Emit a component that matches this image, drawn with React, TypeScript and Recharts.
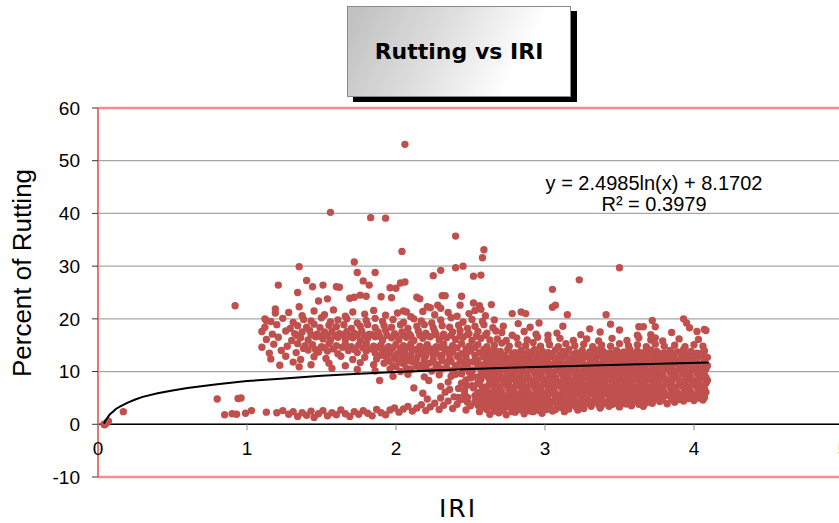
import React from 'react';
import {
  ComposedChart,
  Scatter,
  XAxis,
  YAxis,
  CartesianGrid,
  ReferenceLine,
} from 'recharts';

const nearOrigin = [0.04, 0.0, 0.045, -0.1, 0.06, 0.3, 0.07, 0.6, 0.17, 2.4];

const outliers = [
  2.06, 53.1, 1.56, 40.2, 1.83, 39.2, 1.93, 39.1, 2.4, 35.7, 2.04, 32.8, 2.59, 33.1, 2.58, 31.6,
  1.72, 30.8, 1.35, 29.9, 2.4, 29.7, 2.45, 30.0, 3.5, 29.7, 1.74, 28.8, 1.86, 28.8, 2.3, 29.2,
  2.25, 28.2, 2.52, 28.1, 2.57, 28.3, 3.23, 27.4, 1.21, 26.4, 1.4, 27.3, 1.44, 26.1, 1.51, 26.4,
  1.6, 26.1, 1.62, 26.0, 1.78, 27.2, 1.82, 26.4, 1.34, 25.0, 1.96, 25.9, 2.0, 25.8, 2.03, 26.8,
  2.06, 27.0, 3.05, 25.6, 3.05, 22.2, 3.07, 22.6, 3.15, 20.8, 3.41, 20.8, 3.44, 19.0, 3.72, 19.7,
  3.66, 18.5, 0.92, 22.5,
];

const upperFringe = [
  1.54, 23.8, 1.48, 23.4, 1.35, 22.3, 1.19, 21.9, 1.19, 21.1, 1.12, 20.0, 1.13, 19.7, 1.69, 23.9,
  1.72, 24.1, 1.76, 24.5, 1.8, 24.3, 1.9, 24.2, 1.97, 24.0, 2.14, 24.1, 2.16, 23.8, 2.31, 24.4,
  2.33, 24.4, 2.44, 24.3, 2.52, 23.0, 2.56, 22.5, 2.57, 21.8, 2.53, 21.6, 2.64, 22.7, 2.43, 22.6,
  2.28, 22.6, 2.3, 22.0, 2.21, 22.3, 2.23, 22.1, 2.05, 21.5, 2.07, 21.3, 2.78, 21.0, 2.84, 21.3,
  2.87, 21.0, 2.96, 19.2, 3.02, 16.9,
];

const upperCluster = [
  1.28, 21.2, 1.37, 20.6, 1.45, 21.5, 1.52, 20.8, 1.58, 21.7, 1.66, 20.5, 1.71, 21.3, 1.79, 20.9,
  1.85, 21.6, 1.93, 20.7, 2.01, 21.1, 2.1, 20.4, 2.18, 21.4, 2.26, 20.8, 2.35, 21.2, 2.41, 20.5,
  2.49, 21.0, 2.6, 20.6,
  1.16, 19.5, 1.24, 20.1, 1.31, 19.3, 1.38, 19.9, 1.43, 19.6, 1.5, 20.2, 1.56, 19.4, 1.61, 19.8,
  1.67, 20.0, 1.74, 19.2, 1.8, 19.7, 1.86, 20.1, 1.91, 19.5, 1.98, 19.9, 2.05, 19.3, 2.12, 20.0,
  2.17, 19.6, 2.24, 19.2, 2.3, 19.8, 2.37, 20.2, 2.45, 19.4, 2.51, 19.9, 2.58, 19.5, 2.66, 19.8,
  1.12, 18.4, 1.2, 18.9, 1.29, 18.2, 1.34, 18.7, 1.4, 18.4, 1.45, 19.0, 1.49, 18.3, 1.55, 18.8,
  1.6, 18.5, 1.65, 18.9, 1.7, 18.2, 1.76, 18.6, 1.81, 18.9, 1.86, 18.3, 1.92, 18.7, 1.97, 18.4,
  2.03, 18.9, 2.08, 18.2, 2.14, 18.6, 2.19, 18.9, 2.25, 18.3, 2.31, 18.7, 2.36, 18.4, 2.42, 18.8,
  2.48, 18.2, 2.53, 18.6, 2.59, 18.9, 2.65, 18.3, 2.72, 18.6,
  1.1, 17.6, 1.17, 17.1, 1.26, 17.7, 1.32, 17.2, 1.37, 17.5, 1.42, 17.8, 1.47, 17.1, 1.52, 17.5,
  1.57, 17.7, 1.62, 17.2, 1.67, 17.6, 1.72, 17.3, 1.77, 17.7, 1.82, 17.1, 1.88, 17.5, 1.93, 17.8,
  1.99, 17.2, 2.04, 17.5, 2.09, 17.1, 2.15, 17.7, 2.2, 17.3, 2.26, 17.6, 2.32, 17.1, 2.38, 17.5,
  2.43, 17.8, 2.49, 17.2, 2.55, 17.6, 2.61, 17.3, 2.67, 17.7,
  1.13, 16.1, 1.21, 16.5, 1.3, 15.9, 1.36, 16.4, 1.41, 16.0, 1.46, 16.6, 1.51, 16.2, 1.56, 15.9,
  1.61, 16.5, 1.66, 16.1, 1.71, 16.4, 1.76, 15.9, 1.81, 16.3, 1.86, 16.6, 1.91, 16.0, 1.97, 16.4,
  2.02, 16.1, 2.07, 16.5, 2.12, 15.9, 2.18, 16.3, 2.23, 16.6, 2.29, 16.0, 2.34, 16.4, 2.4, 16.1,
  2.45, 16.5, 2.51, 15.9, 2.57, 16.3, 2.63, 16.0,
  1.1, 14.6, 1.18, 15.2, 1.27, 14.8, 1.34, 15.3, 1.39, 14.9, 1.44, 15.1, 1.5, 14.7, 1.55, 15.3,
  1.6, 14.9, 1.66, 15.2, 1.7, 14.7, 1.75, 15.0, 1.8, 15.3, 1.85, 14.8, 1.9, 15.1, 1.95, 14.7,
  2.0, 15.2, 2.05, 14.9, 2.1, 15.3, 2.16, 14.8, 2.21, 15.1, 2.27, 14.7, 2.32, 15.2, 2.38, 14.9,
  2.44, 15.3, 2.49, 14.8, 2.55, 15.1, 2.61, 14.7,
  1.15, 13.5, 1.23, 14.0, 1.33, 13.6, 1.41, 14.1, 1.48, 13.7, 1.54, 13.9, 1.61, 13.4, 1.68, 14.0,
  1.74, 13.6, 1.8, 13.9, 1.86, 13.5, 1.91, 14.1, 1.96, 13.7, 2.01, 13.4, 2.06, 13.9, 2.11, 14.1,
  2.17, 13.6, 2.22, 13.9, 2.27, 13.5, 2.33, 14.0, 2.38, 13.7, 2.44, 13.4, 2.5, 13.9, 2.56, 13.6,
  2.62, 14.0,
  1.16, 12.4, 1.26, 12.9, 1.36, 12.3, 1.45, 12.8, 1.53, 12.5, 1.63, 12.9, 1.71, 12.3, 1.79, 12.7,
  1.87, 12.4, 1.93, 12.9, 1.99, 12.5, 2.04, 12.2, 2.09, 12.8, 2.14, 12.5, 2.19, 12.9, 2.25, 12.3,
  2.3, 12.7, 2.36, 12.4, 2.41, 12.9, 2.47, 12.5, 2.53, 12.2, 2.59, 12.8,
  1.22, 11.2, 1.31, 11.8, 1.43, 11.3, 1.55, 11.6, 1.66, 11.1, 1.76, 11.7, 1.85, 11.3, 1.92, 11.6,
  1.98, 11.1, 2.05, 11.5, 2.11, 11.8, 2.16, 11.2, 2.22, 11.6, 2.28, 11.3, 2.34, 11.7, 2.4, 11.1,
  2.46, 11.5, 2.52, 11.8, 2.58, 11.2,
  1.35, 10.9, 1.57, 10.6, 1.74, 10.4, 1.86, 10.1, 1.96, 10.5, 2.03, 10.0, 2.1, 10.4, 2.17, 10.7,
  2.24, 10.1, 2.31, 10.5, 2.38, 10.2, 2.45, 10.6, 2.51, 10.0, 2.57, 10.4,
  1.98, 9.1, 2.08, 9.5, 2.19, 9.0, 2.29, 9.4, 2.37, 9.1, 2.44, 9.6, 2.52, 9.0, 2.58, 9.3,
  1.89, 8.3, 2.22, 8.3, 2.35, 8.0, 2.47, 8.4, 2.55, 7.9, 2.12, 6.9, 2.3, 7.2, 2.42, 6.8,
  2.51, 7.3, 2.58, 6.6, 2.18, 5.9, 2.33, 6.1, 2.46, 5.7, 2.55, 6.0,
];

// extra points between the rows above, where the upper cloud is densest
const upperFill = [
  1.38, 14.4, 1.46, 14.2, 1.52, 14.5, 1.58, 14.3, 1.64, 14.6, 1.72, 14.2, 1.78, 14.5, 1.83, 14.3,
  1.88, 14.6, 1.93, 14.2, 1.98, 14.5, 2.03, 14.3, 2.08, 14.6, 2.13, 14.2, 2.19, 14.5, 2.24, 14.3,
  2.3, 14.6, 2.35, 14.2, 2.41, 14.5, 2.47, 14.3, 2.53, 14.6, 2.59, 14.2,
  1.34, 16.8, 1.43, 17.0, 1.49, 16.7, 1.54, 16.9, 1.59, 16.8, 1.64, 17.0, 1.69, 16.7, 1.74, 16.9,
  1.79, 16.8, 1.84, 17.0, 1.89, 16.7, 1.94, 16.9, 2.0, 16.8, 2.05, 17.0, 2.1, 16.7, 2.16, 16.9,
  2.21, 16.8, 2.27, 17.0, 2.32, 16.7, 2.37, 16.9, 2.43, 16.8, 2.48, 17.0, 2.54, 16.7, 2.6, 16.9,
  1.9, 13.1, 1.95, 13.3, 2.0, 13.0, 2.05, 13.2, 2.1, 13.1, 2.15, 13.3, 2.2, 13.0, 2.25, 13.2,
  2.31, 13.1, 2.36, 13.3, 2.42, 13.0, 2.47, 13.2, 2.53, 13.1, 2.58, 13.3,
  1.95, 12.0, 2.02, 11.8, 2.08, 12.1, 2.13, 11.9, 2.19, 12.0, 2.25, 11.8, 2.31, 12.1, 2.37, 11.9,
  2.43, 12.0, 2.49, 11.8, 2.55, 12.1,
  2.0, 10.9, 2.07, 10.7, 2.14, 11.0, 2.2, 10.8, 2.27, 10.9, 2.34, 10.7, 2.41, 11.0, 2.48, 10.8,
  2.55, 10.9,
];

// points where the two clouds meet, between the bands
const bridge = [
  2.46, 6.4, 2.5, 8.8, 2.53, 5.4, 2.56, 7.6, 2.59, 9.7, 2.49, 9.9, 2.54, 4.6, 2.58, 5.9,
  2.44, 7.8, 2.52, 6.9, 2.57, 8.5, 2.4, 9.5, 2.48, 4.2, 2.55, 3.6, 2.36, 6.6, 2.42, 5.1,
  2.51, 10.3, 2.56, 9.1, 2.47, 7.3, 2.58, 4.1,
];

const lowBand = [
  0.8, 4.8, 0.85, 1.8, 0.9, 2.0, 0.93, 1.9, 0.94, 4.9, 0.96, 5.0, 0.99, 2.1, 1.03, 2.6, 1.13, 2.3,
  1.2, 2.2, 1.24, 2.6, 1.28, 1.9, 1.31, 2.4, 1.34, 1.5, 1.37, 2.2, 1.4, 1.7, 1.43, 2.5, 1.45, 1.3,
  1.48, 2.0, 1.51, 2.6, 1.54, 1.6, 1.57, 2.2, 1.6, 1.8, 1.63, 2.7, 1.66, 2.0, 1.69, 1.5, 1.72, 2.4,
  1.75, 1.9, 1.78, 2.6, 1.81, 2.1, 1.84, 1.6, 1.87, 2.8, 1.9, 2.2, 1.93, 1.8, 1.96, 2.7, 1.99, 3.1,
  2.02, 2.3, 2.05, 2.9, 2.08, 3.4, 2.11, 2.5, 2.14, 3.1, 2.17, 3.7, 2.2, 2.6, 2.23, 3.3, 2.26, 4.0,
  2.29, 2.8, 2.32, 3.6, 2.35, 4.4, 2.38, 3.0, 2.41, 3.8, 2.44, 4.7, 2.47, 2.7, 2.5, 3.5, 2.53, 4.3,
  2.56, 2.4, 2.59, 3.2, 2.62, 4.6, 2.21, 4.8, 2.3, 5.0, 2.39, 5.2, 2.48, 5.1, 2.57, 5.3,
];

const mainMass = [
  2.71, 17.4, 2.78, 16.9, 2.86, 17.6, 2.94, 17.1, 3.08, 17.3, 3.24, 17.0, 3.37, 17.5, 3.62, 16.9,
  3.74, 16.4, 3.85, 17.4, 4.02, 17.6, 4.08, 17.8, 4.07, 18.0, 3.93, 20.0, 3.95, 19.2, 3.97, 18.3,
  3.71, 17.0, 3.63, 18.5, 3.74, 18.5, 2.9, 18.4, 2.82, 19.1, 3.12, 18.6, 3.3, 18.1, 3.5, 17.9,
  2.68, 16.2, 2.74, 15.9, 2.81, 16.4, 2.88, 16.0, 2.95, 16.5, 3.02, 16.0, 3.1, 16.3, 3.19, 15.9,
  3.28, 16.2, 3.36, 15.8, 3.45, 16.3, 3.55, 15.9, 3.63, 16.4, 3.71, 16.0, 3.79, 15.8, 3.9, 16.2,
  4.03, 16.1,
  2.66, 15.0, 2.71, 15.4, 2.76, 14.8, 2.82, 15.2, 2.87, 14.9, 2.92, 15.5, 2.97, 14.8, 3.03, 15.1,
  3.09, 14.7, 3.14, 15.3, 3.2, 14.9, 3.26, 15.2, 3.32, 14.7, 3.38, 15.0, 3.44, 14.8, 3.5, 15.3,
  3.56, 14.9, 3.62, 15.1, 3.68, 14.7, 3.74, 15.2, 3.8, 14.8, 3.87, 15.0, 3.94, 14.7, 4.0, 15.1,
  4.06, 14.8,
  2.61, 13.7, 2.66, 14.1, 2.7, 13.8, 2.75, 14.2, 2.8, 13.6, 2.84, 14.0, 2.89, 13.7, 2.93, 14.2,
  2.98, 13.9, 3.02, 13.6, 3.07, 14.1, 3.12, 13.8, 3.16, 14.2, 3.21, 13.6, 3.25, 14.0, 3.3, 13.7,
  3.35, 14.1, 3.39, 13.8, 3.44, 13.5, 3.48, 14.0, 3.53, 13.7, 3.57, 14.2, 3.62, 13.9, 3.66, 13.6,
  3.71, 14.1, 3.75, 13.8, 3.8, 13.5, 3.84, 14.0, 3.89, 13.7, 3.93, 14.2, 3.98, 13.8, 4.02, 13.5,
  4.07, 13.9,
  2.63, 12.6, 2.68, 13.0, 2.72, 12.7, 2.77, 12.5, 2.82, 12.9, 2.86, 12.6, 2.91, 13.0, 2.95, 12.8,
  3.0, 12.5, 3.04, 12.9, 3.09, 12.6, 3.13, 13.0, 3.18, 12.7, 3.23, 12.4, 3.27, 12.9, 3.32, 12.6,
  3.36, 13.0, 3.41, 12.7, 3.46, 12.5, 3.5, 12.9, 3.55, 12.6, 3.59, 13.1, 3.64, 12.8, 3.68, 12.5,
  3.73, 12.9, 3.77, 12.6, 3.82, 13.0, 3.86, 12.7, 3.91, 12.4, 3.95, 12.9, 4.0, 12.6, 4.05, 13.0,
  4.09, 12.7,
  2.6, 11.5, 2.65, 11.9, 2.7, 11.6, 2.74, 12.0, 2.79, 11.4, 2.83, 11.8, 2.88, 11.5, 2.92, 11.9,
  2.97, 11.6, 3.01, 12.0, 3.06, 11.4, 3.1, 11.8, 3.15, 11.5, 3.2, 11.9, 3.24, 11.6, 3.29, 11.3,
  3.33, 11.8, 3.38, 11.5, 3.42, 11.9, 3.47, 11.6, 3.51, 12.0, 3.56, 11.4, 3.61, 11.8, 3.65, 11.5,
  3.7, 11.9, 3.74, 11.6, 3.79, 11.3, 3.83, 11.8, 3.88, 11.5, 3.92, 11.9, 3.97, 11.6, 4.01, 12.0,
  4.06, 11.4,
  2.62, 10.4, 2.67, 10.8, 2.71, 10.5, 2.76, 10.9, 2.81, 10.3, 2.85, 10.7, 2.9, 10.4, 2.94, 10.8,
  2.99, 10.5, 3.03, 10.9, 3.08, 10.3, 3.12, 10.7, 3.17, 10.4, 3.21, 10.8, 3.26, 10.5, 3.31, 10.9,
  3.35, 10.3, 3.4, 10.7, 3.44, 10.4, 3.49, 10.8, 3.53, 10.5, 3.58, 10.9, 3.62, 10.3, 3.67, 10.7,
  3.72, 10.4, 3.76, 10.8, 3.81, 10.5, 3.85, 10.9, 3.9, 10.3, 3.94, 10.7, 3.99, 10.4, 4.03, 10.8,
  4.08, 10.5,
  2.61, 9.3, 2.65, 9.7, 2.7, 9.4, 2.75, 9.8, 2.79, 9.2, 2.84, 9.6, 2.88, 9.3, 2.93, 9.7,
  2.97, 9.4, 3.02, 9.8, 3.06, 9.2, 3.11, 9.6, 3.15, 9.3, 3.2, 9.7, 3.25, 9.4, 3.29, 9.8,
  3.34, 9.2, 3.38, 9.6, 3.43, 9.3, 3.47, 9.7, 3.52, 9.4, 3.56, 9.8, 3.61, 9.2, 3.65, 9.6,
  3.7, 9.3, 3.74, 9.7, 3.79, 9.4, 3.84, 9.8, 3.88, 9.2, 3.93, 9.6, 3.97, 9.3, 4.02, 9.7,
  4.07, 9.4,
  2.63, 8.2, 2.68, 8.6, 2.72, 8.3, 2.77, 8.7, 2.81, 8.1, 2.86, 8.5, 2.91, 8.2, 2.95, 8.6,
  3.0, 8.3, 3.04, 8.7, 3.09, 8.1, 3.13, 8.5, 3.18, 8.2, 3.22, 8.6, 3.27, 8.3, 3.32, 8.7,
  3.36, 8.1, 3.41, 8.5, 3.45, 8.2, 3.5, 8.6, 3.54, 8.3, 3.59, 8.7, 3.63, 8.1, 3.68, 8.5,
  3.72, 8.2, 3.77, 8.6, 3.82, 8.3, 3.86, 8.7, 3.91, 8.1, 3.95, 8.5, 4.0, 8.2, 4.04, 8.6,
  4.09, 8.3,
  2.6, 7.1, 2.65, 7.5, 2.69, 7.2, 2.74, 7.6, 2.78, 7.0, 2.83, 7.4, 2.87, 7.1, 2.92, 7.5,
  2.97, 7.2, 3.01, 7.6, 3.06, 7.0, 3.1, 7.4, 3.15, 7.1, 3.19, 7.5, 3.24, 7.2, 3.28, 7.6,
  3.33, 7.0, 3.37, 7.4, 3.42, 7.1, 3.47, 7.5, 3.51, 7.2, 3.56, 7.6, 3.6, 7.0, 3.65, 7.4,
  3.69, 7.1, 3.74, 7.5, 3.78, 7.2, 3.83, 7.6, 3.87, 7.0, 3.92, 7.4, 3.96, 7.1, 4.01, 7.5,
  4.06, 7.2,
  2.62, 6.0, 2.66, 6.4, 2.71, 6.1, 2.76, 6.5, 2.8, 5.9, 2.85, 6.3, 2.89, 6.0, 2.94, 6.4,
  2.98, 6.1, 3.03, 6.5, 3.07, 5.9, 3.12, 6.3, 3.16, 6.0, 3.21, 6.4, 3.26, 6.1, 3.3, 6.5,
  3.35, 5.9, 3.39, 6.3, 3.44, 6.0, 3.48, 6.4, 3.53, 6.1, 3.57, 6.5, 3.62, 5.9, 3.66, 6.3,
  3.71, 6.0, 3.75, 6.4, 3.8, 6.1, 3.85, 6.5, 3.89, 5.9, 3.94, 6.3, 3.98, 6.0, 4.03, 6.4,
  4.08, 6.1,
  2.61, 4.9, 2.66, 5.3, 2.7, 5.0, 2.75, 5.4, 2.79, 4.8, 2.84, 5.2, 2.88, 4.9, 2.93, 5.3,
  2.97, 5.0, 3.02, 5.4, 3.07, 4.8, 3.11, 5.2, 3.16, 4.9, 3.2, 5.3, 3.25, 5.0, 3.29, 5.4,
  3.34, 4.8, 3.38, 5.2, 3.43, 4.9, 3.48, 5.3, 3.52, 5.0, 3.57, 5.4, 3.61, 4.8, 3.66, 5.2,
  3.7, 4.9, 3.75, 5.3, 3.79, 5.0, 3.84, 5.4, 3.88, 4.9, 3.93, 5.2, 3.97, 5.0, 4.02, 5.3,
  4.07, 5.1,
  2.63, 3.8, 2.67, 4.2, 2.72, 3.9, 2.77, 4.3, 2.81, 3.7, 2.86, 4.1, 2.9, 3.8, 2.95, 4.2,
  2.99, 3.9, 3.04, 4.3, 3.08, 3.7, 3.13, 4.1, 3.17, 3.8, 3.22, 4.2, 3.27, 3.9, 3.31, 4.3,
  3.36, 3.7, 3.4, 4.1, 3.45, 3.8, 3.49, 4.2, 3.54, 3.9, 3.58, 4.3, 3.63, 3.8, 3.68, 4.1,
  3.72, 4.0, 3.77, 4.3, 3.82, 3.9, 3.87, 4.2, 3.93, 4.4, 4.0, 4.5, 4.06, 4.6,
  2.61, 2.8, 2.66, 3.2, 2.7, 2.9, 2.75, 3.3, 2.79, 2.7, 2.84, 3.1, 2.88, 2.8, 2.93, 3.2,
  2.97, 2.9, 3.02, 3.3, 3.07, 2.8, 3.11, 3.2, 3.16, 2.9, 3.21, 3.3, 3.26, 3.0, 3.31, 3.4,
  3.37, 3.1, 3.43, 3.4, 3.5, 3.3, 3.58, 3.5, 3.66, 3.4,
  2.63, 1.9, 2.69, 2.2, 2.74, 1.8, 2.8, 2.3, 2.86, 2.0, 2.92, 2.4, 2.98, 2.1, 3.05, 2.5,
  3.13, 2.4, 3.22, 2.7,
];

// extra points between the rows of the main cloud, which is nearly solid in the picture
const mainFill = [
  2.6, 4.5, 2.65, 4.7, 2.69, 4.4, 2.74, 4.6, 2.78, 4.3, 2.83, 4.7, 2.88, 4.5, 2.92, 4.4,
  2.96, 4.8, 3.01, 4.5, 3.05, 4.3, 3.1, 4.7, 3.14, 4.4, 3.19, 4.6, 3.24, 4.5, 3.28, 4.8,
  3.33, 4.4, 3.37, 4.6, 3.42, 4.3, 3.46, 4.7, 3.51, 4.5, 3.55, 4.8, 3.6, 4.4, 3.65, 4.6,
  3.69, 4.5, 3.74, 4.7, 3.79, 4.6, 3.85, 4.8, 3.9, 4.7, 3.96, 4.9, 4.03, 5.0,
  2.63, 5.6, 2.68, 5.9, 2.72, 5.5, 2.77, 5.8, 2.82, 5.6, 2.86, 5.9, 2.91, 5.5, 2.95, 5.8,
  3.0, 5.7, 3.05, 5.9, 3.09, 5.5, 3.14, 5.8, 3.18, 5.6, 3.23, 5.9, 3.27, 5.5, 3.32, 5.8,
  3.36, 5.7, 3.41, 5.9, 3.46, 5.5, 3.5, 5.8, 3.55, 5.6, 3.59, 5.9, 3.64, 5.5, 3.68, 5.8,
  3.73, 5.7, 3.77, 5.9, 3.82, 5.5, 3.87, 5.8, 3.91, 5.6, 3.96, 5.9, 4.0, 5.5, 4.05, 5.8,
  2.61, 6.7, 2.66, 6.9, 2.7, 6.6, 2.75, 7.0, 2.79, 6.7, 2.84, 6.9, 2.88, 6.6, 2.93, 7.0,
  2.97, 6.7, 3.02, 6.9, 3.06, 6.6, 3.11, 7.0, 3.16, 6.7, 3.2, 6.9, 3.25, 6.6, 3.29, 7.0,
  3.34, 6.7, 3.38, 6.9, 3.43, 6.6, 3.47, 7.0, 3.52, 6.7, 3.56, 6.9, 3.61, 6.6, 3.65, 7.0,
  3.7, 6.7, 3.74, 6.9, 3.79, 6.6, 3.84, 7.0, 3.88, 6.7, 3.93, 6.9, 3.97, 6.6, 4.02, 7.0,
  4.07, 6.7,
  2.63, 7.8, 2.67, 8.0, 2.72, 7.7, 2.76, 8.1, 2.81, 7.8, 2.85, 8.0, 2.9, 7.7, 2.94, 8.1,
  2.99, 7.8, 3.04, 8.0, 3.08, 7.7, 3.13, 8.1, 3.17, 7.8, 3.22, 8.0, 3.26, 7.7, 3.31, 8.1,
  3.35, 7.8, 3.4, 8.0, 3.45, 7.7, 3.49, 8.1, 3.54, 7.8, 3.58, 8.0, 3.63, 7.7, 3.67, 8.1,
  3.72, 7.8, 3.76, 8.0, 3.81, 7.7, 3.85, 8.1, 3.9, 7.8, 3.94, 8.0, 3.99, 7.7, 4.03, 8.1,
  4.08, 7.8,
  2.62, 8.9, 2.66, 9.1, 2.71, 8.8, 2.75, 9.2, 2.8, 8.9, 2.84, 9.1, 2.89, 8.8, 2.94, 9.2,
  2.98, 8.9, 3.03, 9.1, 3.07, 8.8, 3.12, 9.2, 3.16, 8.9, 3.21, 9.1, 3.25, 8.8, 3.3, 9.2,
  3.35, 8.9, 3.39, 9.1, 3.44, 8.8, 3.48, 9.2, 3.53, 8.9, 3.57, 9.1, 3.62, 8.8, 3.66, 9.2,
  3.71, 8.9, 3.75, 9.1, 3.8, 8.8, 3.85, 9.2, 3.89, 8.9, 3.94, 9.1, 3.98, 8.8, 4.03, 9.2,
  4.08, 8.9,
  2.6, 10.0, 2.65, 10.2, 2.69, 9.9, 2.74, 10.3, 2.78, 10.0, 2.83, 10.2, 2.87, 9.9, 2.92, 10.3,
  2.96, 10.0, 3.01, 10.2, 3.06, 9.9, 3.1, 10.3, 3.15, 10.0, 3.19, 10.2, 3.24, 9.9, 3.28, 10.3,
  3.33, 10.0, 3.37, 10.2, 3.42, 9.9, 3.47, 10.3, 3.51, 10.0, 3.56, 10.2, 3.6, 9.9, 3.65, 10.3,
  3.69, 10.0, 3.74, 10.2, 3.78, 9.9, 3.83, 10.3, 3.88, 10.0, 3.92, 10.2, 3.97, 9.9, 4.01, 10.3,
  4.06, 10.0,
  2.63, 11.1, 2.67, 11.3, 2.72, 11.0, 2.77, 11.4, 2.81, 11.1, 2.86, 11.3, 2.9, 11.0, 2.95, 11.4,
  2.99, 11.1, 3.04, 11.3, 3.08, 11.0, 3.13, 11.4, 3.18, 11.1, 3.22, 11.3, 3.27, 11.0, 3.31, 11.4,
  3.36, 11.1, 3.4, 11.3, 3.45, 11.0, 3.49, 11.4, 3.54, 11.1, 3.58, 11.3, 3.63, 11.0, 3.68, 11.4,
  3.72, 11.1, 3.77, 11.3, 3.81, 11.0, 3.86, 11.4, 3.9, 11.1, 3.95, 11.3, 3.99, 11.0, 4.04, 11.4,
  4.09, 11.1,
  2.61, 12.2, 2.66, 12.4, 2.7, 12.1, 2.75, 12.5, 2.79, 12.2, 2.84, 12.4, 2.89, 12.1, 2.93, 12.5,
  2.98, 12.2, 3.02, 12.4, 3.07, 12.1, 3.11, 12.5, 3.16, 12.2, 3.2, 12.4, 3.25, 12.1, 3.3, 12.5,
  3.34, 12.2, 3.39, 12.4, 3.43, 12.1, 3.48, 12.5, 3.52, 12.2, 3.57, 12.4, 3.61, 12.1, 3.66, 12.5,
  3.71, 12.2, 3.75, 12.4, 3.8, 12.1, 3.84, 12.5, 3.89, 12.2, 3.93, 12.4, 3.98, 12.1, 4.02, 12.5,
  4.07, 12.2,
  2.64, 13.2, 2.68, 13.4, 2.73, 13.1, 2.78, 13.5, 2.82, 13.2, 2.87, 13.4, 2.91, 13.1, 2.96, 13.5,
  3.0, 13.2, 3.05, 13.4, 3.1, 13.1, 3.14, 13.5, 3.19, 13.2, 3.23, 13.4, 3.28, 13.1, 3.32, 13.5,
  3.37, 13.2, 3.42, 13.4, 3.46, 13.1, 3.51, 13.5, 3.55, 13.2, 3.6, 13.4, 3.64, 13.1, 3.69, 13.5,
  3.73, 13.2, 3.78, 13.4, 3.83, 13.1, 3.87, 13.5, 3.92, 13.2, 3.96, 13.4, 4.01, 13.1, 4.05, 13.5,
  2.62, 3.4, 2.68, 3.6, 2.73, 3.3, 2.78, 3.7, 2.83, 3.4, 2.88, 3.6, 2.93, 3.5, 2.98, 3.7,
  3.03, 3.4, 3.09, 3.6, 3.14, 3.5, 3.19, 3.7, 3.25, 3.6, 3.31, 3.8, 3.38, 3.6, 3.46, 3.9,
  3.55, 3.9,
  2.66, 2.5, 2.72, 2.6, 2.78, 2.4, 2.84, 2.7, 2.9, 2.5, 2.96, 2.6, 3.01, 2.8,
];

// Logarithmic trendline, values
const trendX = [0.04, 0.05, 0.06, 0.07, 0.08, 0.1, 0.12, 0.15, 0.2, 0.25, 0.3, 0.4, 0.5, 0.6, 0.8, 1, 1.25, 1.5, 1.75, 2, 2.5, 3, 3.5, 4.1];
const trendY = [0.1, 0.7, 1.1, 1.5, 1.9, 2.4, 2.9, 3.4, 4.1, 4.7, 5.2, 5.9, 6.4, 6.9, 7.6, 8.2, 8.7, 9.2, 9.6, 9.9, 10.5, 10.9, 11.3, 11.7];

const xTicks = [0, 1, 2, 3, 4, 5];
const yTicks = [-10, 0, 10, 20, 30, 40, 50, 60];

function toPoints(flat: number[]) {
  const out: { x: number; y: number }[] = [];
  for (let i = 0; i < flat.length; i += 2) out.push({ x: flat[i], y: flat[i + 1] });
  return out;
}

const points = [
  ...toPoints(nearOrigin),
  ...toPoints(lowBand),
  ...toPoints(upperCluster),
  ...toPoints(upperFill),
  ...toPoints(upperFringe),
  ...toPoints(bridge),
  ...toPoints(mainMass),
  ...toPoints(mainFill),
  ...toPoints(outliers),
];
const trend = trendX.map((x, i) => ({ x, y: trendY[i] }));

const CHART_W = 860;
const CHART_H = 523;
const Y_AXIS_W = 60;
const X_AXIS_H = 30;
const MARGIN = { top: 108, right: 17, bottom: 16, left: 38 };
const Y_MIN = -10;
const Y_MAX = 60;
const PLOT_BOTTOM = CHART_H - MARGIN.bottom - X_AXIS_H;
const PLOT_H = PLOT_BOTTOM - MARGIN.top;
// x axis crosses at y = 0, not at the bottom of the plot
const ZERO_Y = PLOT_BOTTOM - (PLOT_H * (0 - Y_MIN)) / (Y_MAX - Y_MIN);

const FONT = '"Liberation Sans", Arial, sans-serif';
const VERDANA = '"DejaVu Sans", Verdana, sans-serif';
const DOT = '#C0504D';
const PINK = '#FF8A8A';

const XTick = (props: any) => {
  const { x, payload } = props;
  return (
    <g>
      <line x1={x} x2={x} y1={ZERO_Y} y2={ZERO_Y + 6} stroke="#8c8c8c" strokeWidth={1} />
      <text x={x} y={ZERO_Y + 31} textAnchor="middle" fontSize={19} fontFamily={FONT} fill="#000">
        {payload.value}
      </text>
    </g>
  );
};

const Dot = (props: any) => <circle cx={props.cx} cy={props.cy} r={3.7} fill={DOT} />;
const NoDot = () => null;

export default function App() {
  return (
    <div
      style={{
        position: 'absolute',
        left: 0,
        top: 0,
        width: 839,
        height: 523,
        overflow: 'hidden',
        background: '#fff',
      }}
    >
      <ComposedChart width={CHART_W} height={CHART_H} margin={MARGIN}>
        <CartesianGrid horizontal vertical={false} stroke="#a6a6a6" strokeWidth={1.2} />
        <XAxis
          type="number"
          dataKey="x"
          domain={[0, 5]}
          ticks={xTicks}
          height={X_AXIS_H}
          axisLine={false}
          tickLine={false}
          tick={<XTick />}
          allowDataOverflow
        />
        <YAxis
          type="number"
          dataKey="y"
          domain={[Y_MIN, Y_MAX]}
          ticks={yTicks}
          width={Y_AXIS_W}
          axisLine={{ stroke: '#e87878', strokeWidth: 2 }}
          tickLine={{ stroke: '#333', strokeWidth: 1 }}
          tickSize={6}
          tickMargin={12}
          tick={{ fill: '#000', fontSize: 19, fontFamily: FONT }}
          allowDataOverflow
        />
        <ReferenceLine y={60} stroke={PINK} strokeWidth={2.5} />
        <ReferenceLine y={-10} stroke={PINK} strokeWidth={2.5} />
        <ReferenceLine y={0} stroke="#000" strokeWidth={1.5} />
        <Scatter data={points} fill={DOT} shape={<Dot />} isAnimationActive={false} />
        <Scatter
          data={trend}
          shape={<NoDot />}
          line={{ stroke: '#000', strokeWidth: 2 }}
          lineType="joint"
          isAnimationActive={false}
        />
      </ComposedChart>

      {/* chart title box */}
      <div
        style={{
          position: 'absolute',
          left: 347,
          top: 6,
          width: 222,
          height: 89,
          border: '1px solid #8a8a8a',
          background: 'linear-gradient(120deg, #c2c2c2 5%, #dedede 40%, #ffffff 75%)',
          boxShadow: '6px 5px 0 #000',
          display: 'flex',
          alignItems: 'center',
          justifyContent: 'center',
          fontFamily: VERDANA,
          fontWeight: 'bold',
          fontSize: 22,
          color: '#000',
        }}
      >
        Rutting vs IRI
      </div>

      {/* trendline equation */}
      <div
        style={{
          position: 'absolute',
          left: 534,
          top: 173,
          width: 240,
          textAlign: 'center',
          fontFamily: FONT,
          fontSize: 20,
          lineHeight: '21px',
          color: '#000',
        }}
      >
        <div style={{ whiteSpace: 'nowrap' }}>y = 2.4985ln(x) + 8.1702</div>
        <div>R² = 0.3979</div>
      </div>

      {/* y axis title */}
      <div
        style={{
          position: 'absolute',
          left: 22,
          top: 273,
          transform: 'translate(-50%, -50%) rotate(-90deg)',
          whiteSpace: 'nowrap',
          fontFamily: FONT,
          fontSize: 26,
          color: '#000',
        }}
      >
        Percent of Rutting
      </div>

      {/* x axis title */}
      <div
        style={{
          position: 'absolute',
          left: 458,
          top: 508,
          transform: 'translate(-50%, -50%)',
          whiteSpace: 'nowrap',
          fontFamily: VERDANA,
          fontSize: 25,
          letterSpacing: 2,
          color: '#000',
        }}
      >
        IRI
      </div>
    </div>
  );
}
